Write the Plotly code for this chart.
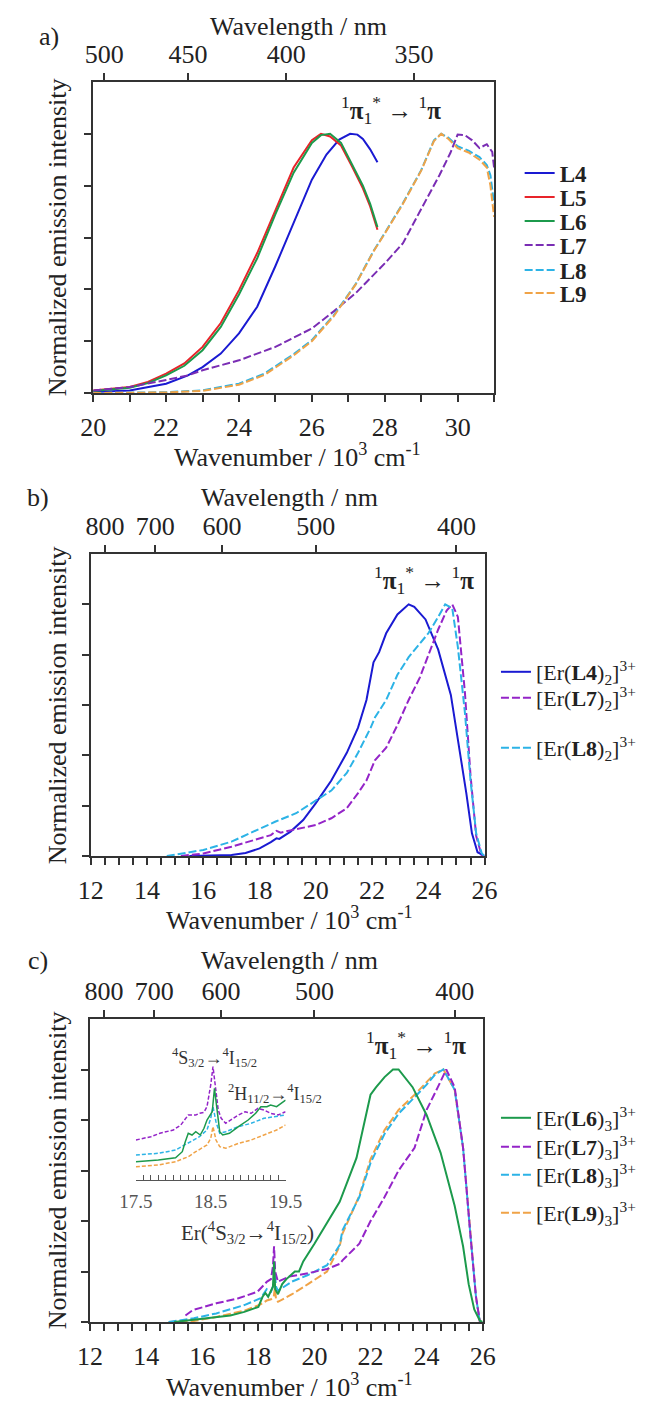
import plotly.graph_objects as go

# ---------------- data ----------------
# Panel a: free ligands, wavenumber (10^3 cm-1) vs normalized intensity
a_L4_x = [20, 21, 22, 22.6, 23, 23.5, 24, 24.5, 25, 25.5, 26, 26.4, 26.75, 27.05, 27.25, 27.4, 27.6, 27.8]
a_L4_y = [0.004, 0.01, 0.036, 0.068, 0.10, 0.152, 0.23, 0.333, 0.49, 0.66, 0.823, 0.92, 0.978, 1.0, 0.997, 0.98, 0.94, 0.89]
a_L5_x = [20, 21, 21.5, 22, 22.5, 23, 23.5, 24, 24.5, 25, 25.5, 26, 26.25, 26.5, 26.8, 27.1, 27.4, 27.6, 27.8]
a_L5_y = [0.01, 0.023, 0.043, 0.075, 0.114, 0.178, 0.27, 0.397, 0.54, 0.707, 0.87, 0.975, 1.0, 0.99, 0.955, 0.875, 0.79, 0.72, 0.63]
a_L6_x = [20, 21, 21.5, 22, 22.5, 23, 23.5, 24, 24.5, 25, 25.5, 26, 26.25, 26.5, 26.8, 27.1, 27.4, 27.6, 27.8]
a_L6_y = [0.008, 0.02, 0.038, 0.068, 0.105, 0.165, 0.255, 0.38, 0.52, 0.69, 0.85, 0.965, 0.995, 1.0, 0.965, 0.885, 0.80, 0.73, 0.64]
a_L7_x = [20, 21, 22, 22.6, 23, 24, 25, 26, 26.6, 27.2, 28, 28.5, 29, 29.5, 29.8, 30.0, 30.2, 30.4, 30.6, 30.8, 30.95, 31]
a_L7_y = [0.01, 0.023, 0.05, 0.068, 0.088, 0.126, 0.178, 0.249, 0.315, 0.385, 0.5, 0.578, 0.71, 0.84, 0.926, 0.997, 0.995, 0.975, 0.945, 0.96, 0.93, 0.87]
a_L8_x = [20, 21, 22, 23, 24, 24.7, 25.5, 26, 26.6, 27.2, 27.7, 28, 28.5, 29, 29.35, 29.55, 29.75, 30, 30.3, 30.6, 30.8, 30.9, 31]
a_L8_y = [0, 0.001, 0.003, 0.01, 0.036, 0.075, 0.15, 0.204, 0.30, 0.42, 0.55, 0.617, 0.733, 0.86, 0.975, 1.0, 0.985, 0.952, 0.935, 0.91, 0.88, 0.84, 0.73]
a_L9_x = [20, 21, 22, 23, 24, 24.7, 25.5, 26, 26.6, 27.2, 27.7, 28, 28.5, 29, 29.35, 29.55, 29.75, 30, 30.3, 30.6, 30.8, 30.9, 31]
a_L9_y = [0, 0.001, 0.002, 0.008, 0.032, 0.07, 0.145, 0.2, 0.296, 0.418, 0.548, 0.615, 0.73, 0.858, 0.972, 1.0, 0.98, 0.945, 0.928, 0.9, 0.87, 0.8, 0.68]

# Panel b: [Er(L)2]3+ complexes
b_L4_x = [15.5, 16.5, 17.0, 17.5, 18.0, 18.4, 18.6, 18.7, 19.1, 19.55, 20.0, 20.55, 21.1, 21.5, 21.8, 22.05, 22.25, 22.5, 22.9, 23.3, 23.5, 23.9, 24.35, 24.8, 25.05, 25.35, 25.55, 25.75, 26.0]
b_L4_y = [0, 0.002, 0.004, 0.012, 0.03, 0.055, 0.07, 0.068, 0.097, 0.143, 0.21, 0.30, 0.41, 0.51, 0.62, 0.77, 0.81, 0.885, 0.96, 1.0, 0.99, 0.94, 0.82, 0.64, 0.47, 0.25, 0.09, 0.015, 0]
b_L7_x = [15.2, 16.0, 17.0, 17.85, 18.4, 18.6, 18.75, 18.9, 19.4, 20.0, 20.55, 21.1, 21.5, 21.8, 22.1, 22.5, 22.9, 23.3, 23.7, 24.0, 24.35, 24.65, 24.85, 25.05, 25.3, 25.5, 25.7, 25.9]
b_L7_y = [0, 0.01, 0.037, 0.064, 0.083, 0.10, 0.093, 0.097, 0.11, 0.123, 0.15, 0.19, 0.25, 0.30, 0.38, 0.43, 0.52, 0.62, 0.71, 0.80, 0.90, 0.975, 1.0, 0.95, 0.65, 0.32, 0.08, 0]
b_L8_x = [14.7, 15.3, 16.0, 17.0, 18.0, 18.3, 18.55, 19.3, 20.0, 20.55, 21.1, 21.5, 21.95, 22.1, 22.5, 22.9, 23.3, 23.7, 24.0, 24.35, 24.6, 24.85, 25.05, 25.3, 25.5, 25.7, 25.9, 26.0]
b_L8_y = [0, 0.01, 0.024, 0.057, 0.11, 0.125, 0.136, 0.17, 0.222, 0.26, 0.33, 0.41, 0.51, 0.55, 0.62, 0.72, 0.79, 0.845, 0.885, 0.95, 1.0, 0.985, 0.83, 0.57, 0.30, 0.09, 0.01, 0]

# Panel c: [Er(L)3]3+ complexes
c_L6_x = [15.0, 16.0, 17.0, 17.5, 18.0, 18.15, 18.25, 18.35, 18.45, 18.52, 18.56, 18.6, 18.7, 18.85, 19.0, 19.2, 19.3, 19.45, 19.6, 20.0, 20.5, 20.9, 21.5, 22.0, 22.2, 22.5, 22.8, 23.0, 23.5, 24.0, 24.5, 25.0, 25.3, 25.5, 25.7, 25.9, 26.0]
c_L6_y = [0, 0.013, 0.026, 0.04, 0.06, 0.10, 0.115, 0.10, 0.12, 0.14, 0.239, 0.13, 0.11, 0.15, 0.17, 0.19, 0.2, 0.2, 0.24, 0.31, 0.40, 0.476, 0.65, 0.90, 0.93, 0.97, 1.0, 1.0, 0.93, 0.82, 0.67, 0.46, 0.30, 0.15, 0.05, 0.005, 0]
c_L7_x = [15.4, 15.66, 16.5, 17.29, 17.97, 18.31, 18.45, 18.52, 18.56, 18.6, 18.7, 19.1, 19.77, 20.45, 20.9, 21.0, 21.6, 22.0, 22.5, 23.0, 23.57, 24.0, 24.4, 24.7, 25.0, 25.3, 25.55, 25.76, 25.9]
c_L7_y = [0.026, 0.047, 0.074, 0.094, 0.12, 0.16, 0.17, 0.22, 0.30, 0.2, 0.16, 0.18, 0.193, 0.21, 0.23, 0.244, 0.31, 0.40, 0.495, 0.60, 0.69, 0.84, 0.93, 1.0, 0.93, 0.69, 0.36, 0.10, 0]
c_L8_x = [14.8, 15.7, 16.5, 17.5, 18.08, 18.3, 18.45, 18.55, 18.59, 18.63, 18.7, 19.2, 19.77, 20.45, 20.9, 21.0, 21.6, 22.0, 22.5, 23.0, 23.57, 24.0, 24.3, 24.6, 25.0, 25.3, 25.55, 25.76, 25.9]
c_L8_y = [0, 0.015, 0.034, 0.067, 0.094, 0.13, 0.12, 0.15, 0.193, 0.14, 0.124, 0.16, 0.186, 0.225, 0.305, 0.363, 0.495, 0.63, 0.745, 0.825, 0.89, 0.94, 0.98, 1.0, 0.92, 0.69, 0.36, 0.10, 0]
c_L9_x = [14.8, 15.7, 16.5, 17.5, 18.08, 18.3, 18.45, 18.55, 18.59, 18.63, 18.7, 19.2, 19.77, 20.45, 20.9, 21.0, 21.6, 22.0, 22.5, 23.0, 23.57, 24.0, 24.3, 24.6, 25.0, 25.3, 25.55, 25.76, 25.9]
c_L9_y = [0, 0.004, 0.02, 0.045, 0.07, 0.085, 0.09, 0.1, 0.135, 0.09, 0.08, 0.11, 0.15, 0.2, 0.30, 0.35, 0.50, 0.645, 0.76, 0.84, 0.90, 0.95, 0.985, 1.0, 0.92, 0.69, 0.36, 0.10, 0]

# Inset of panel c (offset traces, arbitrary units)
i_L7_x = [17.5, 17.7, 17.82, 18.0, 18.1, 18.2, 18.3, 18.35, 18.41, 18.45, 18.5, 18.53, 18.56, 18.6, 18.64, 18.7, 18.8, 18.87, 18.96, 19.04, 19.13, 19.21, 19.3, 19.4, 19.5]
i_L7_y = [0.40, 0.433, 0.467, 0.5, 0.55, 0.65, 0.65, 0.667, 0.677, 0.733, 0.95, 1.133, 0.95, 0.7, 0.617, 0.567, 0.617, 0.65, 0.683, 0.667, 0.717, 0.70, 0.667, 0.65, 0.683]
i_L6_x = [17.5, 17.8, 18.03, 18.12, 18.16, 18.2, 18.25, 18.3, 18.36, 18.41, 18.45, 18.48, 18.52, 18.55, 18.58, 18.62, 18.66, 18.75, 18.87, 19.0, 19.1, 19.17, 19.25, 19.3, 19.38, 19.45, 19.5]
i_L6_y = [0.183, 0.2, 0.223, 0.283, 0.383, 0.467, 0.45, 0.483, 0.45, 0.517, 0.6, 0.633, 0.683, 0.917, 0.717, 0.483, 0.45, 0.467, 0.533, 0.6, 0.667, 0.733, 0.733, 0.75, 0.733, 0.767, 0.8]
i_L8_x = [17.5, 17.8, 18.03, 18.2, 18.35, 18.45, 18.5, 18.53, 18.57, 18.62, 18.7, 18.87, 19.04, 19.21, 19.38, 19.5]
i_L8_y = [0.25, 0.267, 0.3, 0.367, 0.433, 0.5, 0.617, 0.733, 0.583, 0.467, 0.483, 0.533, 0.567, 0.617, 0.633, 0.65]
i_L9_x = [17.5, 17.8, 18.03, 18.2, 18.3, 18.45, 18.5, 18.53, 18.57, 18.62, 18.7, 18.87, 19.04, 19.21, 19.38, 19.5]
i_L9_y = [0.133, 0.15, 0.183, 0.233, 0.283, 0.35, 0.417, 0.533, 0.4, 0.333, 0.317, 0.367, 0.4, 0.45, 0.5, 0.55]

# tick labels
a_top_labels = ["500", "450", "400", "350"]
a_top_pos = [20.3, 22.6, 25.3, 28.8]          # as drawn in the reference
bc_top_nm = [800, 700, 600, 500, 400]

# ---------------- styling ----------------
FONT = "Liberation Serif"
TXT = "#222222"
AX = "#333333"
C_BLUE, C_RED, C_GREEN = "#1a1ad2", "#e8242a", "#1c9a4c"
C_PURPLE_A, C_PURPLE, C_CYAN, C_ORANGE = "#7a2db4", "#9424c8", "#2cb3e6", "#f0a347"
DASH = "8px,3px"
PAGE_OFF = 8                  # default margin of the html body around the figure
W, H = 657 - PAGE_OFF, 1402 - PAGE_OFF


def px(x):
    return (x - PAGE_OFF) / W


def py(y):
    return 1 - (y - PAGE_OFF) / H


fig = go.Figure()

legend_cfg = {}


def add(name, x, y, xa, ya, color, dash, leg, legy, legx, fsize=22):
    fig.add_trace(go.Scatter(
        x=x, y=y, xaxis=xa, yaxis=ya, mode="lines", name=name,
        line=dict(color=color, width=2, dash=dash),
        legend=leg, showlegend=True, hoverinfo="skip"))
    legend_cfg[leg] = dict(
        x=px(legx), y=py(legy), xanchor="left", yanchor="middle",
        bgcolor="rgba(0,0,0,0)", borderwidth=0, itemwidth=30,
        font=dict(family=FONT, size=fsize, color=TXT))


# panel a
a_leg_x = 530
add("<b>L4</b>", a_L4_x, a_L4_y, "x", "y", C_BLUE, "solid", "legend", 173, a_leg_x, fsize=23)
add("<b>L5</b>", a_L5_x, a_L5_y, "x", "y", C_RED, "solid", "legend2", 197, a_leg_x, fsize=23)
add("<b>L6</b>", a_L6_x, a_L6_y, "x", "y", C_GREEN, "solid", "legend3", 221, a_leg_x, fsize=23)
add("<b>L7</b>", a_L7_x, a_L7_y, "x", "y", C_PURPLE_A, DASH, "legend4", 245, a_leg_x, fsize=23)
add("<b>L8</b>", a_L8_x, a_L8_y, "x", "y", C_CYAN, DASH, "legend5", 270, a_leg_x, fsize=23)
add("<b>L9</b>", a_L9_x, a_L9_y, "x", "y", C_ORANGE, DASH, "legend6", 293, a_leg_x, fsize=23)

# panel b
b_leg_x = 505
add("[Er(<b>L4</b>)<sub>2</sub>]<sup>3+</sup>", b_L4_x, b_L4_y, "x3", "y3", C_BLUE, "solid", "legend7", 672, b_leg_x)
add("[Er(<b>L7</b>)<sub>2</sub>]<sup>3+</sup>", b_L7_x, b_L7_y, "x3", "y3", C_PURPLE, DASH, "legend8", 698, b_leg_x)
add("[Er(<b>L8</b>)<sub>2</sub>]<sup>3+</sup>", b_L8_x, b_L8_y, "x3", "y3", C_CYAN, DASH, "legend9", 748, b_leg_x)

# panel c
c_leg_x = 505
add("[Er(<b>L9</b>)<sub>3</sub>]<sup>3+</sup>", c_L9_x, c_L9_y, "x5", "y5", C_ORANGE, DASH, "legend13", 1213, c_leg_x)
add("[Er(<b>L8</b>)<sub>3</sub>]<sup>3+</sup>", c_L8_x, c_L8_y, "x5", "y5", C_CYAN, DASH, "legend12", 1175, c_leg_x)
add("[Er(<b>L7</b>)<sub>3</sub>]<sup>3+</sup>", c_L7_x, c_L7_y, "x5", "y5", C_PURPLE, DASH, "legend11", 1147, c_leg_x)
add("[Er(<b>L6</b>)<sub>3</sub>]<sup>3+</sup>", c_L6_x, c_L6_y, "x5", "y5", C_GREEN, "solid", "legend10", 1118, c_leg_x)

# inset (no legend)
for xs, ys, col, dsh in [(i_L7_x, i_L7_y, C_PURPLE, "4px,2px"), (i_L8_x, i_L8_y, C_CYAN, "4px,2px"),
                         (i_L9_x, i_L9_y, C_ORANGE, "4px,2px"), (i_L6_x, i_L6_y, C_GREEN, "solid")]:
    fig.add_trace(go.Scatter(x=xs, y=ys, xaxis="x7", yaxis="y7", mode="lines",
                             line=dict(color=col, width=1.5, dash=dsh),
                             showlegend=False, hoverinfo="skip"))

# empty traces so that the top (wavelength) axes are created
for xa, ya in [("x2", "y"), ("x4", "y3"), ("x6", "y5")]:
    fig.add_trace(go.Scatter(x=[], y=[], xaxis=xa, yaxis=ya, mode="lines",
                             showlegend=False, hoverinfo="skip"))

# ---------------- axes ----------------
tickfont = dict(family=FONT, size=26, color=TXT)


def bottom_axis(rng, dom, anchor, major, minor):
    return dict(domain=dom, range=rng, anchor=anchor, showgrid=False, zeroline=False,
                showline=True, linecolor=AX, linewidth=1.5, mirror=False,
                ticks="outside", ticklen=7, tickwidth=1.5, tickcolor=AX,
                dtick=major, tick0=0, tickfont=tickfont, ticklabelstandoff=3,
                minor=dict(dtick=minor, ticks="outside", ticklen=7, tickwidth=1.5, tickcolor=AX))


def top_axis(base, anchor, rng, vals, texts):
    return dict(overlaying=base, side="top", anchor=anchor, range=rng,
                showgrid=False, zeroline=False, showline=True, linecolor=AX, linewidth=1.5,
                ticks="outside", ticklen=7, tickwidth=1.5, tickcolor=AX,
                tickmode="array", tickvals=vals, ticktext=texts, tickfont=tickfont)


def left_axis(dom, anchor):
    return dict(domain=dom, range=[0, 1.2], anchor=anchor, showgrid=False, zeroline=False,
                showline=True, linecolor=AX, linewidth=1.5, mirror=True,
                ticks="outside", ticklen=7, tickwidth=1.5, tickcolor=AX,
                tickmode="array", tickvals=[0, 0.2, 0.4, 0.6, 0.8, 1.0], showticklabels=False)


a_xd = [px(80), px(503)]
a_yd = [py(393), py(82)]
b_xd = [px(77.5), px(493)]
b_yd = [py(856), py(554)]
c_xd = [px(76.7), px(491)]
c_yd = [py(1322), py(1019)]

bc_top_pos = [1e4 / nm for nm in bc_top_nm]
bc_top_txt = [str(nm) for nm in bc_top_nm]

fig.update_layout(
    xaxis=bottom_axis([20, 31], a_xd, "y", 2, 1),
    yaxis=left_axis(a_yd, "x"),
    xaxis2=top_axis("x", "y", [20, 31], a_top_pos, a_top_labels),
    xaxis3=bottom_axis([12, 26], b_xd, "y3", 2, 0.5),
    yaxis3=left_axis(b_yd, "x3"),
    xaxis4=top_axis("x3", "y3", [12, 26], bc_top_pos, bc_top_txt),
    xaxis5=bottom_axis([12, 26], c_xd, "y5", 2, 0.5),
    yaxis5=left_axis(c_yd, "x5"),
    xaxis6=top_axis("x5", "y5", [12, 26], bc_top_pos, bc_top_txt),
    xaxis7=dict(domain=[px(125), px(283)], range=[17.5, 19.5], anchor="y7",
                showgrid=False, zeroline=False, showline=True, linecolor="#555", linewidth=1.2,
                ticks="inside", ticklen=5, tickwidth=1, tickcolor="#555",
                tickmode="array", tickvals=[17.5, 18.5, 19.5], ticktext=["17.5", "18.5", "19.5"],
                tickfont=dict(family=FONT, size=19, color="#555"), ticklabelstandoff=4,
                minor=dict(dtick=0.1, tick0=17.5, ticks="inside", ticklen=5, tickwidth=1, tickcolor="#555")),
    yaxis7=dict(domain=[py(1180), py(1060)], range=[0, 1.2], anchor="x7", visible=False),
)

for k, v in legend_cfg.items():
    fig.layout[k] = v

# ---------------- text annotations ----------------
ann = []


def text(s, x, y, size=26, angle=0, color=TXT):
    ann.append(dict(text=s, x=px(x), y=py(y), xref="paper", yref="paper", showarrow=False,
                    xanchor="center", yanchor="middle", textangle=angle,
                    font=dict(family=FONT, size=size, color=color)))


PI = "<sup>1</sup><b>π</b><sub>1</sub><sup>*</sup> → <sup>1</sup><b>π</b>"

# panel a
text("a)", 33, 37)
text("Wavelength / nm", 297, 26)
text("Wavenumber / 10<sup>3</sup> cm<sup>-1</sup>", 296, 455)
text("Normalized emission intensity", 42, 237, angle=-90)
text(PI, 394, 110, size=25)
# panel b
text("b)", 22, 497)
text("Wavelength / nm", 287, 497)
text("Wavenumber / 10<sup>3</sup> cm<sup>-1</sup>", 287, 918)
text("Normalized emission intensity", 42, 705, angle=-90)
text(PI, 429, 580, size=25)
# panel c
text("c)", 22, 960)
text("Wavelength / nm", 287, 961)
text("Wavenumber / 10<sup>3</sup> cm<sup>-1</sup>", 287, 1385)
text("Normalized emission intensity", 42, 1170, angle=-90)
text(PI, 421, 1045, size=25)
text("Er(<sup>4</sup>S<sub>3/2</sub>→<sup>4</sup>I<sub>15/2</sub>)", 243, 1232, size=21, color="#333")
text("<sup>4</sup>S<sub>3/2</sub>→<sup>4</sup>I<sub>15/2</sub>", 208, 1057, size=18, color="#333")
text("<sup>2</sup>H<sub>11/2</sub>→<sup>4</sup>I<sub>15/2</sub>", 272, 1093, size=18, color="#333")

fig.update_layout(
    annotations=ann,
    width=W, height=H, margin=dict(l=0, r=0, t=0, b=0),
    paper_bgcolor="white", plot_bgcolor="white",
    font=dict(family=FONT, color=TXT),
)

fig.write_html("out.html", config={"displayModeBar": False})
